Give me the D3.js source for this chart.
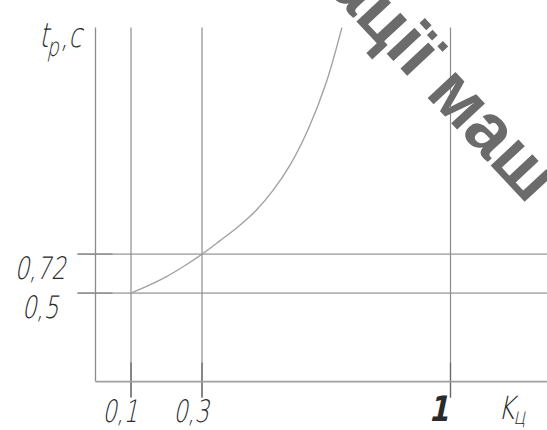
<!DOCTYPE html>
<html>
<head>
<meta charset="utf-8">
<script src="https://cdn.jsdelivr.net/npm/d3@7"></script>
<style>
  html, body { margin: 0; padding: 0; background: #fff; }
  svg { display: block; }
  .lbl { font-family: "DejaVu Sans ExtraLight", "DejaVu Sans", sans-serif; font-weight: 200; fill: #2a2a2a; }
</style>
</head>
<body>
<svg id="chart" width="547" height="430"></svg>
<script>
// Response time t_p versus coefficient K_ц
const kValues = [0.1, 0.15, 0.2, 0.25, 0.3, 0.35, 0.4, 0.45, 0.5, 0.55, 0.6, 0.65, 0.694];
const tValues = [0.5, 0.543, 0.593, 0.653, 0.72, 0.795, 0.872, 0.962, 1.08, 1.23, 1.43, 1.69, 2.0];

// marked reference values
const kMarks = [0.1, 0.3, 1];
const kMarkLabels = ["0,1", "0,3", "1"];
const tMarks = [0.5, 0.72];
const tMarkLabels = ["0,5", "0,72"];

const svg = d3.select("#chart");
const W = 547;

const x = d3.scaleLinear().domain([0, 1]).range([95.5, 450.5]);
const y = d3.scaleLinear().domain([0, 2]).range([381.6, 27.6]);
const kMax = x.invert(W);

const g = svg.append("g");

// slanted, condensed drafting-style label
function label(parent, px, py, size, str, opts = {}) {
  const t = parent.append("text").attr("class", "lbl")
    .attr("transform", `translate(${px},${py}) skewX(-12) scale(${opts.sx || 0.74},1)`)
    .attr("text-anchor", opts.anchor || "middle")
    .attr("font-size", size);
  if (opts.bold) t.style("font-weight", "bold").attr("fill", "#111");
  if (str !== null) t.text(str);
  return t;
}

// reference lines for t
tMarks.forEach(t => {
  g.append("line")
    .attr("x1", x(0) - 18).attr("x2", W)
    .attr("y1", y(t)).attr("y2", y(t))
    .attr("stroke", "#b4b4b4").attr("stroke-width", 1.6);
  g.append("line")
    .attr("x1", x(0) - 18).attr("x2", x(0) + 17)
    .attr("y1", y(t)).attr("y2", y(t))
    .attr("stroke", "#8a8a8a").attr("stroke-width", 1.4);
});

// reference lines for K
kMarks.forEach(k => {
  g.append("line")
    .attr("x1", x(k)).attr("x2", x(k))
    .attr("y1", y(2)).attr("y2", y(0) + 16)
    .attr("stroke", "#8c8c8c").attr("stroke-width", 1.2);
  g.append("line")
    .attr("x1", x(k)).attr("x2", x(k))
    .attr("y1", y(0) - 19).attr("y2", y(0) + 16)
    .attr("stroke", "#6a6a6a").attr("stroke-width", 1.3);
});

// axes
g.append("line")
  .attr("x1", x(0)).attr("x2", x(0))
  .attr("y1", y(2)).attr("y2", y(0))
  .attr("stroke", "#8c8c8c").attr("stroke-width", 1.3);
g.append("line")
  .attr("x1", x(0)).attr("x2", x(kMax))
  .attr("y1", y(0)).attr("y2", y(0))
  .attr("stroke", "#a0a0a0").attr("stroke-width", 1.6);

// curve
const pts = kValues.map((k, i) => [k, tValues[i]]);
g.append("path")
  .datum(pts)
  .attr("fill", "none")
  .attr("stroke", "#a2a2a2")
  .attr("stroke-width", 1.4)
  .attr("d", d3.line().x(d => x(d[0])).y(d => y(d[1])).curve(d3.curveCatmullRom.alpha(0.5)));

// t labels
tMarks.forEach((t, i) => {
  label(g, 40, y(t) + 25, 31, tMarkLabels[i]);
});

// K labels
kMarks.forEach((k, i) => {
  const big = kMarkLabels[i] === "1";
  label(g, x(k) - (big ? 12 : 11), big ? 421 : 422, big ? 35 : 31, kMarkLabels[i], { bold: big, sx: big ? 0.82 : 0.72 });
});

// axis titles
const kt = label(g, 498, 419, 32, null, { anchor: "start", sx: 0.78 });
kt.append("tspan").text("K");
kt.append("tspan").attr("font-size", 23).attr("dy", 5).text("ц");

const tt = label(g, 39, 47, 34, null, { anchor: "start", sx: 0.72 });
tt.append("tspan").text("t");
tt.append("tspan").attr("font-size", 26).attr("dy", 9).text("p");
tt.append("tspan").attr("dy", -9).text(",c");

// watermark
svg.append("text")
  .attr("transform", "translate(427,97) rotate(47)")
  .attr("text-anchor", "middle")
  .attr("font-family", "Liberation Sans, Arial, sans-serif")
  .attr("font-weight", "bold")
  .attr("font-size", 72)
  .attr("fill", "#6b6b6b")
  .text("ації маш");
</script>
</body>
</html>
